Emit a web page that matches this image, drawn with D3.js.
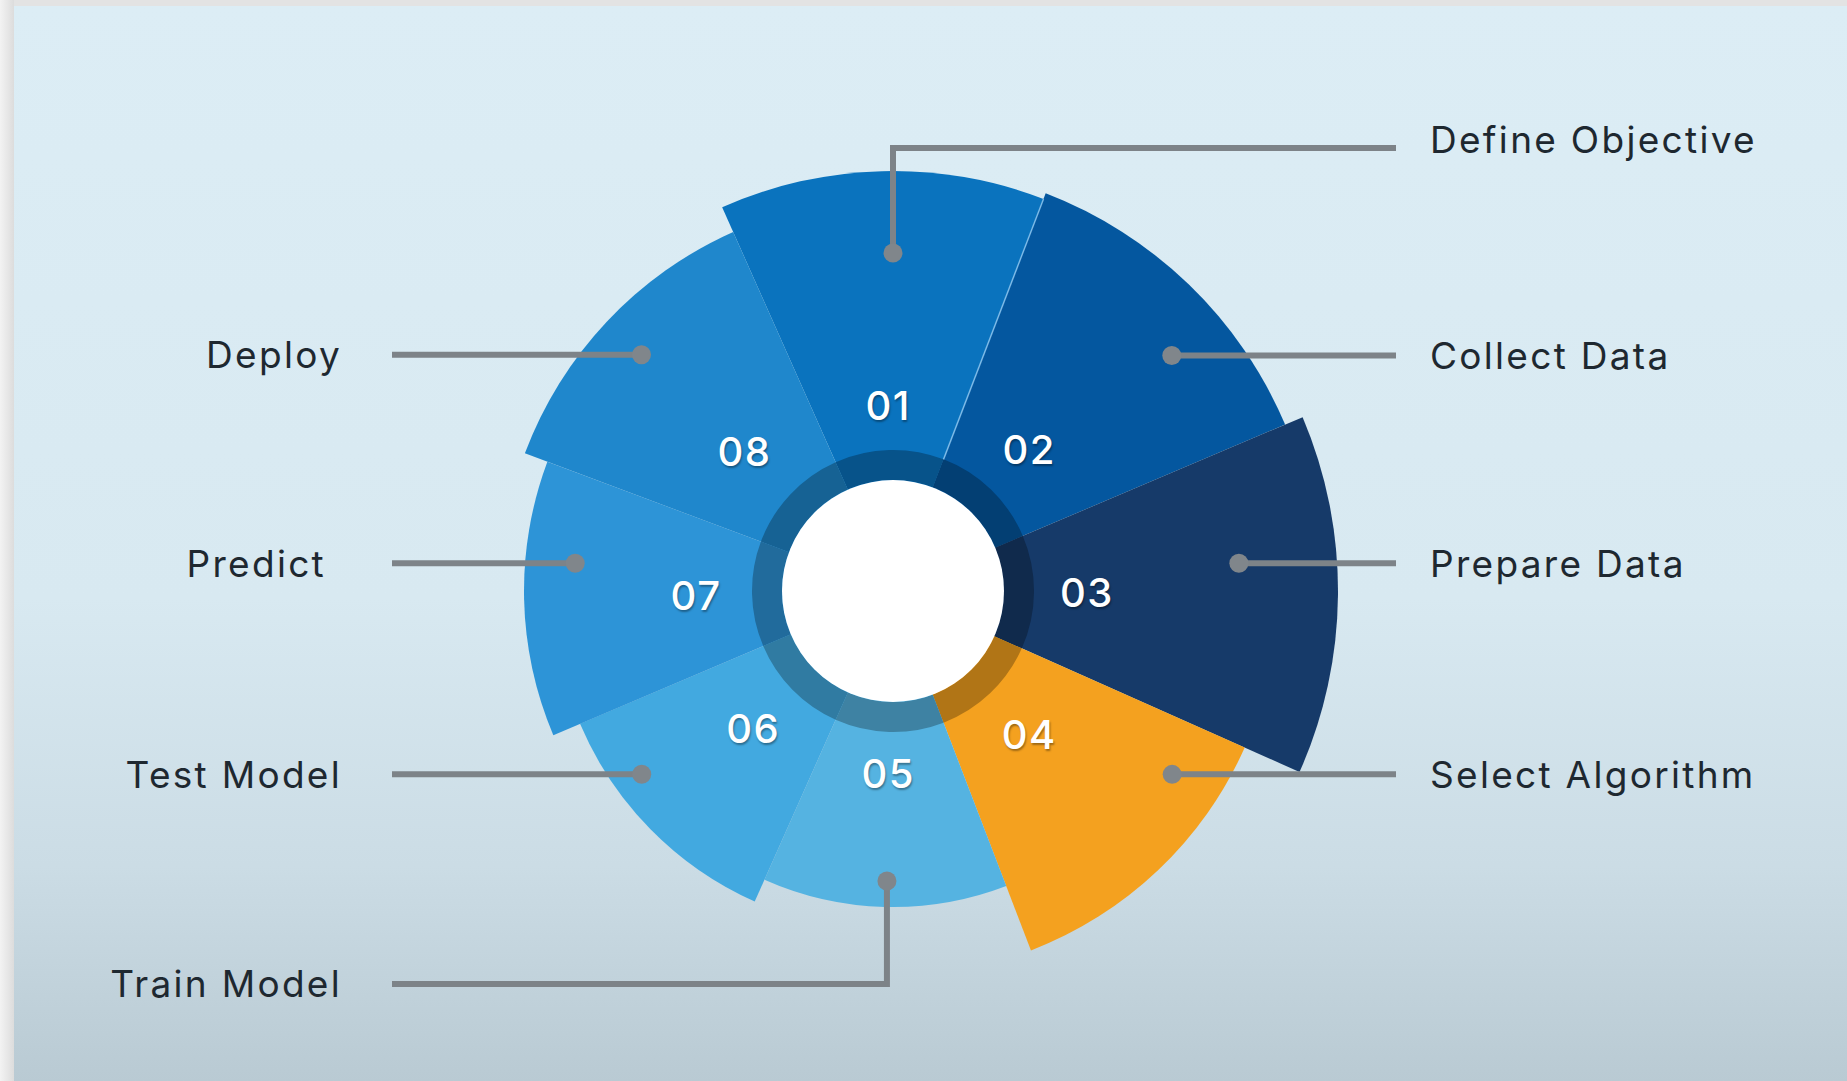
<!DOCTYPE html>
<html>
<head>
<meta charset="utf-8">
<script src="https://d3js.org/d3.v7.min.js"></script>
<style>
  html, body { margin: 0; padding: 0; background: #e6e6e6; overflow: hidden; }
  svg { display: block; }
  .step-num { text-shadow: 1px 2px 2px rgba(0, 0, 0, 0.35); }
</style>
</head>
<body>
<svg id="plot" width="1847" height="1081"></svg>
<script>

function whenDocumentLoaded(action) {
	if (document.readyState === "loading") {
		document.addEventListener("DOMContentLoaded", action);
	} else {
		action();
	}
}

const STEP_NUMBERS = ['01', '02', '03', '04', '05', '06', '07', '08'];
const STEP_NAMES = ['Define Objective', 'Collect Data', 'Prepare Data', 'Select Algorithm',
                    'Train Model', 'Test Model', 'Predict', 'Deploy'];
// angular share of each slice (degrees)
const SLICE_SPAN = [45, 46, 47, 45, 45, 43, 43.5, 45.5];
// how far each slice reaches out (0-100)
const SLICE_REACH = [84, 85.2, 89, 77, 63.2, 68, 73.8, 78.6];
const SLICE_COLORS = ['#0a73be', '#04579f', '#163a69', '#f4a11f', '#55b3e1', '#42a9e0', '#2d94d7', '#1f87cc'];
// where the pin of each leader sits (degrees, reach 0-100)
const PIN_ANGLE = [0, 49.8, 85.4, 123.3, 181.2, 233.9, 275, 313.2];
const PIN_REACH = [67.6, 73, 69.4, 66.8, 58, 62.2, 63.8, 69];

class StepWheel {

	constructor(plotId) {
		this.svg = d3.select(`#${plotId}`);
		this.radius = d3.scaleLinear().domain([0, 100]).range([0, 500]);
		this.pie = d3.pie()
			.sort(null)
			.value(d => d.span)
			.startAngle(-24 * Math.PI / 180)
			.endAngle(336 * Math.PI / 180);
		this.data = STEP_NUMBERS.map((num, i) => ({
			num: num,
			name: STEP_NAMES[i],
			span: SLICE_SPAN[i],
			reach: SLICE_REACH[i],
			color: SLICE_COLORS[i],
			pinAngle: PIN_ANGLE[i] * Math.PI / 180,
			pinReach: PIN_REACH[i],
			right: i < 4
		}));
	}

	drawBackground() {
		const defs = this.svg.append('defs');
		const card = defs.append('linearGradient')
			.attr('id', 'cardGrad').attr('x1', 0).attr('y1', 0).attr('x2', 0).attr('y2', 1);
		card.append('stop').attr('offset', '0%').attr('stop-color', '#dcedf5');
		card.append('stop').attr('offset', '55%').attr('stop-color', '#d8e9f1');
		card.append('stop').attr('offset', '80%').attr('stop-color', '#cbdce5');
		card.append('stop').attr('offset', '100%').attr('stop-color', '#b9cad3');
		const edge = defs.append('linearGradient')
			.attr('id', 'edgeGrad').attr('x1', 0).attr('y1', 0).attr('x2', 1).attr('y2', 0);
		edge.append('stop').attr('offset', '0%').attr('stop-color', '#f3f3f3');
		edge.append('stop').attr('offset', '100%').attr('stop-color', '#dcdcdc');

		this.svg.append('rect')
			.attr('width', StepWheel.WIDTH).attr('height', StepWheel.HEIGHT)
			.style('fill', '#e3e3e3');
		this.svg.append('rect')
			.attr('width', 14).attr('height', StepWheel.HEIGHT)
			.style('fill', 'url(#edgeGrad)');
		this.svg.append('rect')
			.attr('x', 14).attr('y', 6)
			.attr('width', StepWheel.WIDTH - 14).attr('height', StepWheel.HEIGHT - 6)
			.style('fill', 'url(#cardGrad)');
	}

	redraw() {
		this.drawBackground();

		const arcs = this.pie(this.data);
		const g = this.svg.append('g')
			.attr('transform', `translate(${StepWheel.CX},${StepWheel.CY})`);

		const sliceArc = d3.arc()
			.innerRadius(0)
			.outerRadius(d => this.radius(d.data.reach));
		const ringArc = d3.arc()
			.innerRadius(StepWheel.HOLE_R)
			.outerRadius(StepWheel.RING_R);

		g.selectAll('path.slice')
			.data(arcs)
			.enter()
			.append('path')
				.attr('class', 'slice')
				.attr('d', sliceArc)
				.style('fill', d => d.data.color);

		g.selectAll('path.ring')
			.data(arcs)
			.enter()
			.append('path')
				.attr('class', 'ring')
				.attr('d', ringArc)
				.style('fill', d => d3.color(d.data.color).darker(0.9));

		g.append('circle')
			.attr('r', StepWheel.HOLE_R)
			.style('fill', '#ffffff');

		// thin highlight along the 01 / 02 seam
		const seam = arcs[1].startAngle;
		const seamEnd = this.radius(Math.min(arcs[0].data.reach, arcs[1].data.reach));
		g.append('line')
			.attr('x1', StepWheel.RING_R * Math.sin(seam))
			.attr('y1', -StepWheel.RING_R * Math.cos(seam))
			.attr('x2', seamEnd * Math.sin(seam))
			.attr('y2', -seamEnd * Math.cos(seam))
			.style('stroke', 'rgba(150, 205, 245, 0.75)')
			.style('stroke-width', 1.5);

		// leader lines
		const pinPos = d => {
			const r = this.radius(d.pinReach);
			return [r * Math.sin(d.pinAngle), -r * Math.cos(d.pinAngle)];
		};
		const leaderPoints = (d, i) => {
			const p = pinPos(d);
			const xEnd = d.right ? StepWheel.RIGHT_END - StepWheel.CX : StepWheel.LEFT_END - StepWheel.CX;
			const elbow = StepWheel.ELBOW_Y[i];
			if (elbow !== null) {
				const y = elbow - StepWheel.CY;
				return [p, [p[0], y], [xEnd, y]];
			}
			return [p, [xEnd, p[1]]];
		};
		const line = d3.line();

		g.selectAll('path.leader')
			.data(this.data)
			.enter()
			.append('path')
				.attr('class', 'leader')
				.attr('d', (d, i) => line(leaderPoints(d, i)))
				.style('fill', 'none')
				.style('stroke', '#7d8388')
				.style('stroke-width', 6);

		g.selectAll('circle.pin')
			.data(this.data)
			.enter()
			.append('circle')
				.attr('class', 'pin')
				.attr('cx', d => pinPos(d)[0])
				.attr('cy', d => pinPos(d)[1])
				.attr('r', 9.5)
				.style('fill', '#80868b');

		// step numbers
		const mid = d => (d.startAngle + d.endAngle) / 2;
		g.selectAll('text.step-num')
			.data(arcs)
			.enter()
			.append('text')
				.attr('class', 'step-num')
				.attr('x', (d, i) => StepWheel.NUM_R[i] * Math.sin(mid(d)))
				.attr('y', (d, i) => -StepWheel.NUM_R[i] * Math.cos(mid(d)))
				.attr('text-anchor', 'middle')
				.attr('dy', '0.36em')
				.style('font-family', 'Inter, Lato, sans-serif')
				.style('font-size', '40px')
				.style('letter-spacing', '1.5px')
				.style('font-weight', 500)
				.style('fill', '#ffffff')
				.text(d => d.data.num);

		// step names
		g.selectAll('text.step-name')
			.data(this.data)
			.enter()
			.append('text')
				.attr('class', 'step-name')
				.attr('x', (d, i) => (d.right ? StepWheel.RIGHT_TEXT : StepWheel.LEFT_TEXT) - StepWheel.CX + StepWheel.NAME_DX[i])
				.attr('y', (d, i) => leaderPoints(d, i).slice(-1)[0][1] + StepWheel.NAME_DY[i])
				.attr('dy', '0.36em')
				.attr('text-anchor', d => d.right ? 'start' : 'end')
				.style('font-family', 'Inter, Lato, sans-serif')
				.style('font-size', '37px')
				.style('letter-spacing', '2.3px')
				.style('font-weight', 400)
				.style('fill', '#1e2830')
				.text(d => d.name);
	}
}

StepWheel.WIDTH = 1847;
StepWheel.HEIGHT = 1081;
StepWheel.CX = 893;
StepWheel.CY = 591;
StepWheel.HOLE_R = 111;
StepWheel.RING_R = 141;
StepWheel.NUM_R = [185, 196, 194, 198, 183, 196, 197, 204];
StepWheel.RIGHT_END = 1396;
StepWheel.LEFT_END = 392;
StepWheel.RIGHT_TEXT = 1430;
StepWheel.LEFT_TEXT = 342;
StepWheel.ELBOW_Y = [148, null, null, null, 984, null, null, null];
StepWheel.NAME_DX = [0, 0, 0, 0, 0, 0, -16, 0];
StepWheel.NAME_DY = [-8, 0, 0, 0, 0, 0, 0, 0];

whenDocumentLoaded(() => {
	const wheel = new StepWheel('plot');
	wheel.redraw();
});

</script>
</body>
</html>
